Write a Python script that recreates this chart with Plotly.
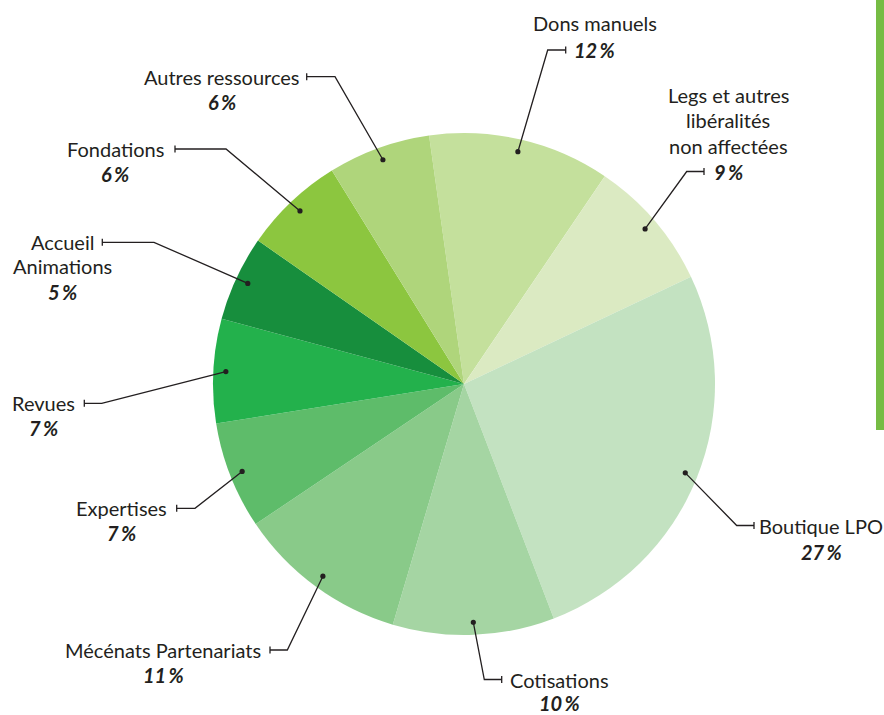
import math
import plotly.graph_objects as go

# ---------------- data ----------------
categories = ["Dons manuels", "Legs et autres libéralités non affectées", "Boutique LPO",
              "Cotisations", "Mécénats Partenariats", "Expertises", "Revues",
              "Accueil Animations", "Fondations", "Autres ressources"]
values = [11.7, 8.5, 26.2, 10.4, 11.0, 6.9, 6.7, 5.5, 6.5, 6.6]
pct_labels = ["12", "9", "27", "10", "11", "7", "7", "5", "6", "6"]
name_lines = [["Dons manuels"], ["Legs et autres", "libéralités", "non affectées"], ["Boutique LPO"],
              ["Cotisations"], ["Mécénats Partenariats"], ["Expertises"], ["Revues"],
              ["Accueil", "Animations"], ["Fondations"], ["Autres ressources"]]
colors = ["#c4e09c", "#dbeac2", "#c3e2c1", "#a5d5a3", "#89ca89", "#5ebc6a",
          "#23b14c", "#178e3d", "#8cc63f", "#afd57b"]

# ---------------- layout helpers (pixels) ----------------
W, H = 884, 715
CX, CY, R = 464, 384, 251
ROT = -8
TXT = "#231f20"
FONT = "Lato"
FS = 20

# label block placement: (block center x, [name line ys], pct y, elbow x, tick x, leader y)
label_pos = [
    (594.5, [23], 50, 547.7, 565.7, 50),
    (728, [95, 120, 145.5], 171.5, 686.7, 704, 171.5),
    (821, [525.5], 551.5, 736.7, 754, 525.5),
    (559, [679.5], 703, 484.3, 501.7, 679.5),
    (163, [650], 675, 287.3, 270, 650),
    (121.7, [508.3], 533.3, 195, 176.7, 508.3),
    (43.8, [403.3], 428.3, 101.7, 84.3, 403.3),
    (62, [242.3, 266], 291.7, 154, 102.3, 242.3),
    (115, [149], 174, 226, 175, 149),
    (221.5, [76.7], 101.7, 335, 306.7, 76.7),
]


def px(x):
    return x / W


def py(y):
    return 1 - y / H


fig = go.Figure(go.Pie(
    labels=categories, values=values, sort=False, direction="clockwise",
    rotation=ROT, textinfo="none", showlegend=False,
    marker=dict(colors=colors, line=dict(width=0)),
    domain=dict(x=[px(CX - R), px(CX + R)], y=[py(CY + R), py(CY - R)]),
))

shapes = []
annotations = []
total = sum(values)
cum = 0.0
for i, v in enumerate(values):
    start = ROT + 360 * cum / total
    mid = math.radians(start + 180 * v / total)
    cum += v
    dx = CX + 0.95 * R * math.sin(mid)
    dy = CY - 0.95 * R * math.cos(mid)
    bx, ys, pyy, ex, tx, ly = label_pos[i]
    # leader line
    shapes.append(dict(type="path", xref="paper", yref="paper",
                       path=f"M {px(dx)},{py(dy)} L {px(ex)},{py(ly)} L {px(tx)},{py(ly)}",
                       line=dict(color=TXT, width=1.3)))
    shapes.append(dict(type="line", xref="paper", yref="paper",
                       x0=px(tx), x1=px(tx), y0=py(ly - 3.5), y1=py(ly + 3.5),
                       line=dict(color=TXT, width=1.3)))
    shapes.append(dict(type="circle", xref="paper", yref="paper",
                       x0=px(dx - 2.6), x1=px(dx + 2.6), y0=py(dy + 2.6), y1=py(dy - 2.6),
                       fillcolor=TXT, line=dict(width=0)))
    for line, yy in zip(name_lines[i], ys):
        annotations.append(dict(x=px(bx), y=py(yy), xref="paper", yref="paper",
                                text=line, showarrow=False, xanchor="center", yanchor="middle",
                                font=dict(family=FONT, size=FS, color=TXT)))
    annotations.append(dict(x=px(bx), y=py(pyy), xref="paper", yref="paper",
                            text=f"<b><i>{pct_labels[i]}\u2009%</i></b>", showarrow=False,
                            xanchor="center", yanchor="middle",
                            font=dict(family=FONT, size=FS, color=TXT)))

# decorative green bar on the right edge
shapes.append(dict(type="rect", xref="paper", yref="paper",
                   x0=px(876), x1=1, y0=py(430), y1=1,
                   fillcolor="#76bc44", line=dict(width=0)))

fig.update_layout(width=W, height=H, margin=dict(l=0, r=0, t=0, b=0),
                  paper_bgcolor="white", plot_bgcolor="white",
                  shapes=shapes, annotations=annotations)

fig.write_html("out.html", config={"displayModeBar": False},
               post_script="document.body.style.margin='0';document.body.style.overflow='hidden';")
